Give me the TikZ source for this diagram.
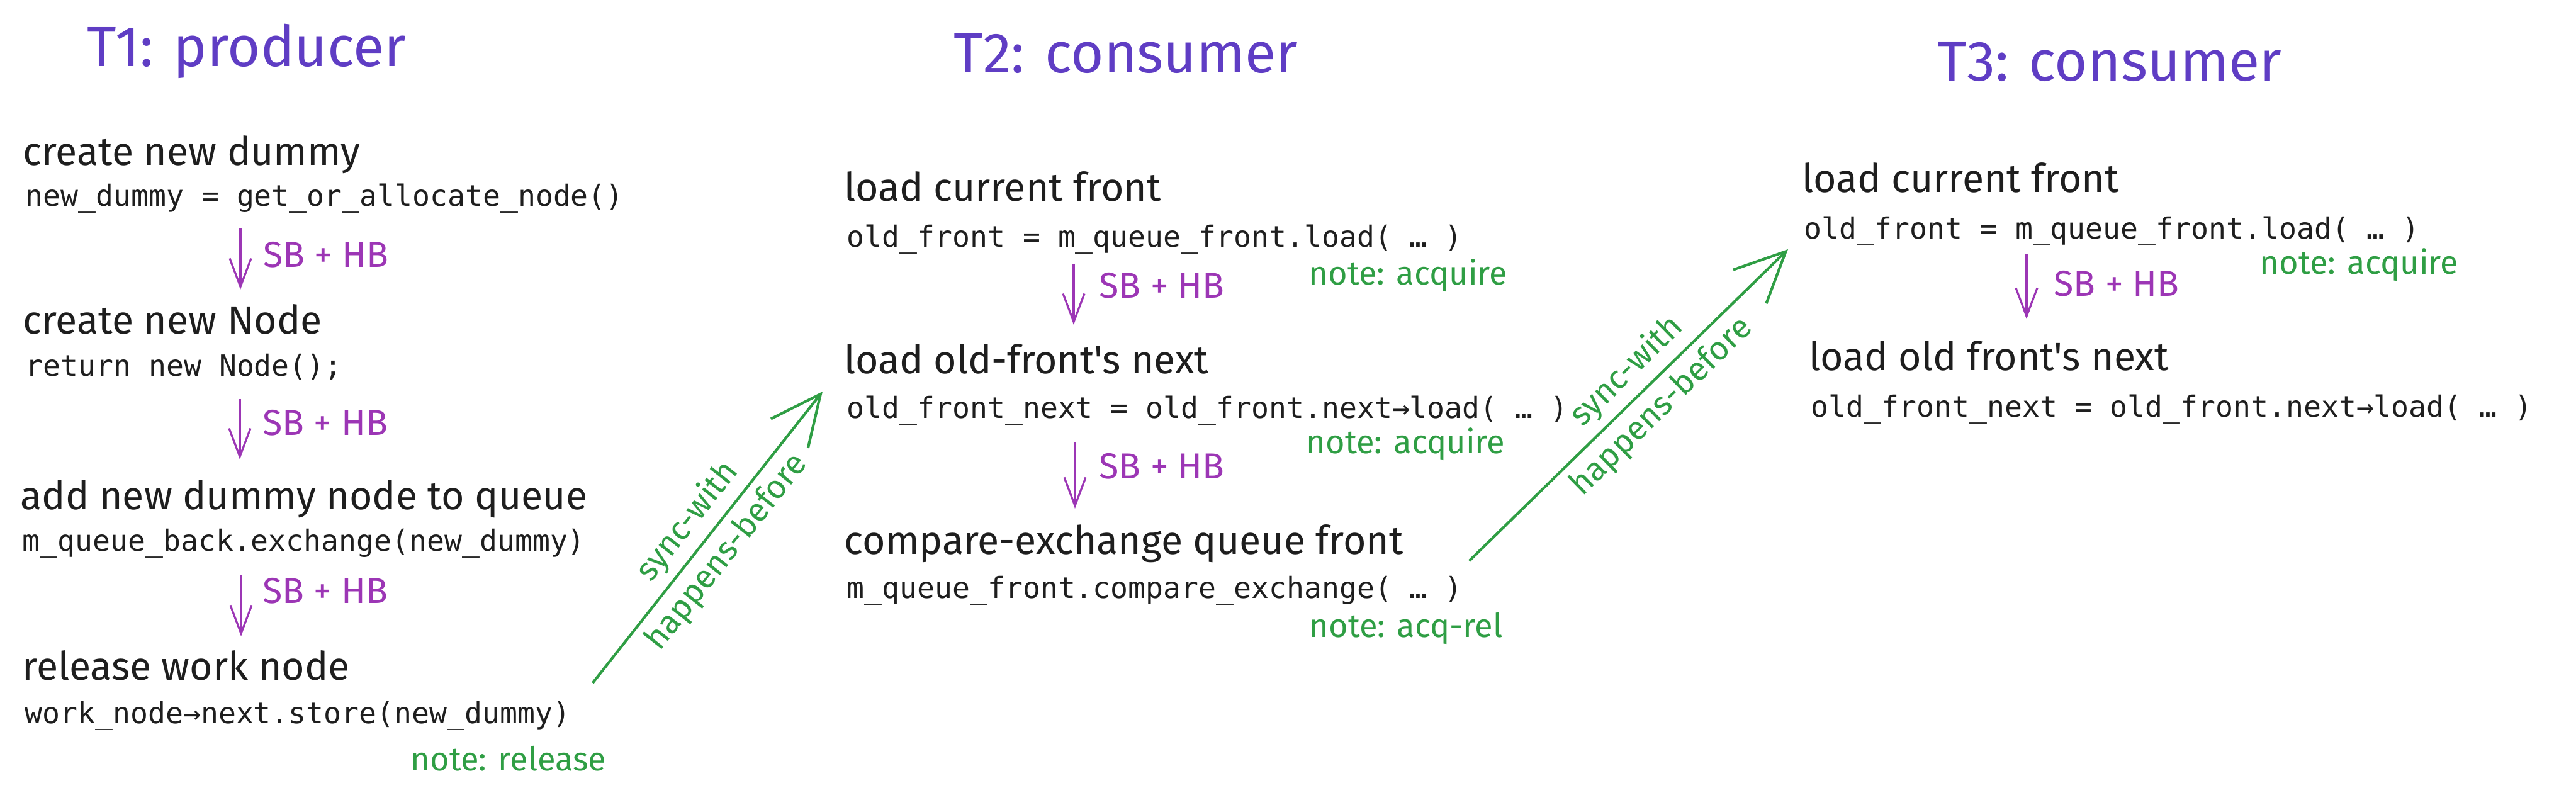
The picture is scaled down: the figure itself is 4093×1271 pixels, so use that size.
\documentclass[tikz,border=0pt]{standalone}
\usepackage{fontspec}
\newfontfamily\handfont{Fira Sans}
\newfontfamily\codefont{DejaVu Sans Mono}
\usepackage{tikz}
\usetikzlibrary{arrows.meta,calc}
\definecolor{titleviolet}{HTML}{5F3DC4}
\definecolor{sbgrape}{HTML}{9C36B5}
\definecolor{notegreen}{HTML}{2F9E44}
\definecolor{inkblack}{HTML}{1E1E1E}

\begin{document}
\begin{tikzpicture}[
  x=0.01cm, y=-0.01cm,
  title/.style={anchor=base west, inner sep=0, text=titleviolet,
                font=\handfont\fontsize{25.6}{30}\selectfont},
  hand/.style={anchor=base west, inner sep=0, text=inkblack,
               font=\handfont\fontsize{17.8}{21}\selectfont},
  code/.style={anchor=base west, inner sep=0, text=inkblack,
               font=\codefont\fontsize{13.2}{16}\selectfont},
  note/.style={anchor=base west, inner sep=0, text=notegreen,
               font=\handfont\fontsize{14.9}{18}\selectfont},
  sblabel/.style={anchor=base west, inner sep=0, text=sbgrape,
                  font=\handfont\fontsize{16.3}{19}\selectfont},
  sbhb/.style={draw=sbgrape, line width=0.9pt,
               -{Straight Barb[length=0.45cm, width=0.34cm]}},
  sync/.style={draw=notegreen, line width=1.2pt,
               -{Straight Barb[length=0.8cm, width=0.75cm]}},
  synclabel/.style={sloped, inner sep=0, text=notegreen,
                    font=\handfont\fontsize{14.9}{18}\selectfont}
]
\useasboundingbox (0,0) rectangle (4093,1271);

\node[title] (t1) at (138,106)  {T1: producer};
\node[title] (t2) at (1515,116) {T2: consumer};
\node[title] (t3) at (3078,129) {T3: consumer};

\node[hand] (h11) at (36,263)   {create new dummy};
\node[code] (c11) at (40,328)   {new\_dummy = get\_or\_allocate\_node()};
\node[hand] (h12) at (36,531)   {create new Node};
\node[code] (c12) at (40,598)   {return new Node();};
\node[hand] (h13) at (32,810)   {add new dummy node to queue};
\node[code] (c13) at (35,876)   {m\_queue\_back.exchange(new\_dummy)};
\node[hand] (h14) at (35,1081)  {release work node};
\node[code] (c14) at (39,1150)  {work\_node→next.store(new\_dummy)};
\node[note] (n14) at (652,1225) {note: release};
\node[sblabel] (sb11) at (418,425) {SB + HB};
\node[sblabel] (sb12) at (417,692) {SB + HB};
\node[sblabel] (sb13) at (417,959) {SB + HB};

\node[hand] (h21) at (1341,320)  {load current front};
\node[code] (c21) at (1345,393)  {old\_front = m\_queue\_front.load( … )};
\node[note] (n21) at (2079,453)  {note: acquire};
\node[hand] (h22) at (1341,594)  {load old-front's next};
\node[code] (c22) at (1345,665)  {old\_front\_next = old\_front.next→load( … )};
\node[note] (n22) at (2075,721)  {note: acquire};
\node[hand] (h23) at (1341,881)  {compare-exchange queue front};
\node[code] (c23) at (1345,951)  {m\_queue\_front.compare\_exchange( … )};
\node[note] (n23) at (2080,1013) {note: acq-rel};
\node[sblabel] (sb21) at (1746,474) {SB + HB};
\node[sblabel] (sb22) at (1746,761) {SB + HB};

\node[hand] (h31) at (2863,306) {load current front};
\node[code] (c31) at (2866,380) {old\_front = m\_queue\_front.load( … )};
\node[note] (n31) at (3590,436) {note: acquire};
\node[hand] (h32) at (2874,589) {load old front's next};
\node[code] (c32) at (2877,663) {old\_front\_next = old\_front.next→load( … )};
\node[sblabel] (sb31) at (3263,471) {SB + HB};

\draw[sbhb] ($(sb11.west |- c11.base)+(-36,35)$) -- ($(sb11.west |- h12.base)+(-36,-71)$);
\draw[sbhb] ($(sb12.west |- c12.base)+(-36,36)$) -- ($(sb12.west |- h13.base)+(-36,-80)$);
\draw[sbhb] ($(sb13.west |- c13.base)+(-34,38)$) -- ($(sb13.west |- h14.base)+(-34,-70)$);
\draw[sbhb] ($(sb21.west |- c21.base)+(-40,26)$) -- ($(sb21.west |- h22.base)+(-40,-78)$);
\draw[sbhb] ($(sb22.west |- c22.base)+(-38,38)$) -- ($(sb22.west |- h23.base)+(-38,-73)$);
\draw[sbhb] ($(sb31.west |- c31.base)+(-43,24)$) -- ($(sb31.west |- h32.base)+(-43,-82)$);

\draw[sync] ($(c14.base east)+(35,-65)$) -- ($(c22.base west)+(-38,-43)$)
  node[synclabel, midway, above=0.12cm] {sync-with}
  node[synclabel, midway, below=0.12cm] {happens-before};
\draw[sync] ($(c23.base east)+(10,-60)$) -- ($(c31.base west)+(-25,16)$)
  node[synclabel, pos=0.55, above=0.12cm] {sync-with}
  node[synclabel, pos=0.55, below=0.12cm] {happens-before};
\end{tikzpicture}
\end{document}
